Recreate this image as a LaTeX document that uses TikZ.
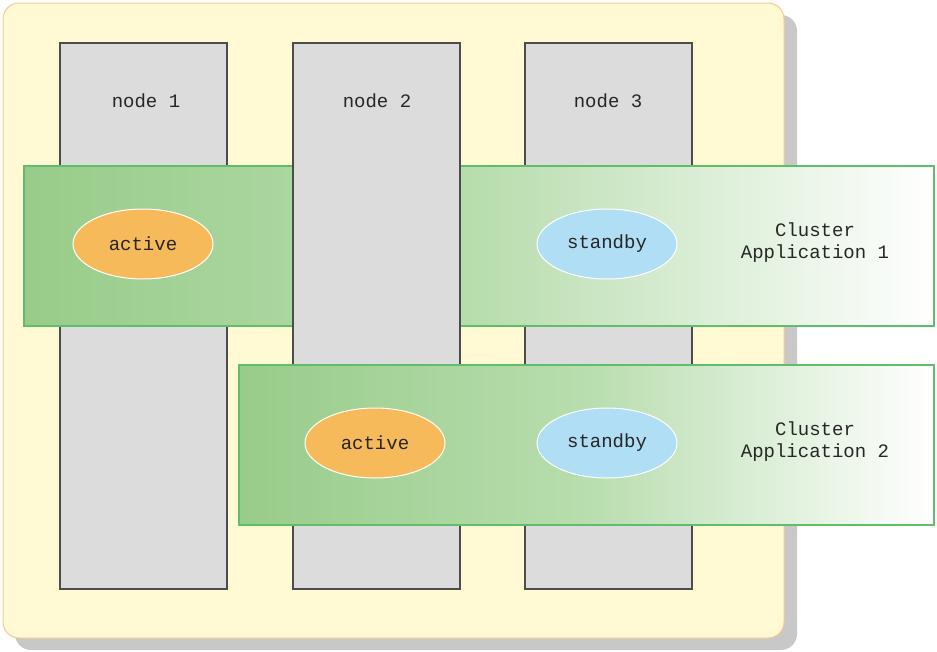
\documentclass[tikz,border=0pt]{standalone}
\usepackage{fontspec}
\setmonofont{Liberation Mono}
\usetikzlibrary{shapes.geometric}

\definecolor{boxyellow}{RGB}{255,250,212}
\definecolor{boxedge}{RGB}{246,200,140}
\definecolor{shadowgrey}{RGB}{200,200,200}
\definecolor{colgrey}{RGB}{220,220,220}
\definecolor{bandgreen}{RGB}{152,204,138}
\definecolor{bandmid}{RGB}{184,221,174}
\definecolor{bandedge}{RGB}{95,190,105}
\definecolor{activeorange}{RGB}{247,186,90}
\definecolor{standbyblue}{RGB}{176,222,245}

\tikzset{
    txt/.style={font=\ttfamily\fontsize{19}{22}\selectfont, text=black!85},
    column/.style={draw=black!70, line width=1.5, fill=colgrey, inner sep=0,
        minimum width=167, minimum height=546, anchor=north west},
    band/.style={draw=bandedge, line width=1.8, left color=bandgreen, right color=white,
        middle color=bandmid, inner sep=0, minimum height=160, anchor=north west},
    state/.style={ellipse, draw=white, line width=1, inner sep=0,
        minimum width=140, minimum height=70, txt},
    active/.style={state, fill=activeorange},
    standby/.style={state, fill=standbyblue},
}

\begin{document}
\begin{tikzpicture}[x=1pt, y=-1pt]

    \useasboundingbox (0,0) rectangle (937,651);

    % frame with shadow
    \fill[shadowgrey, rounded corners=16] (15,15) rectangle (797,650);
    \draw[boxedge, fill=boxyellow, line width=1, rounded corners=16] (3,3) rectangle (784,638);

    \node[column] (n1) at (59,42) {};
    \node[column] (n3) at (524,42) {};
    \node[txt] (n1lbl) at (146,101) {node 1};
    \node[txt] (n3lbl) at (608,101) {node 3};

    \node[band, minimum width=910] (app1) at (23,165) {};
    \node[active] (act1) at (143,244) {active};
    \node[standby] (stb1) at (607,244) {standby};
    \node[txt, align=center] (app1lbl) at (815,243) {Cluster\\Application 1};

    \node[column] (n2) at (292,42) {};
    \node[txt] (n2lbl) at (377,101) {node 2};

    \node[band, minimum width=695] (app2) at (238,364) {};
    \node[active] (act2) at (375,443) {active};
    \node[standby] (stb2) at (607,443) {standby};
    \node[txt, align=center] (app2lbl) at (815,442) {Cluster\\Application 2};

\end{tikzpicture}
\end{document}
